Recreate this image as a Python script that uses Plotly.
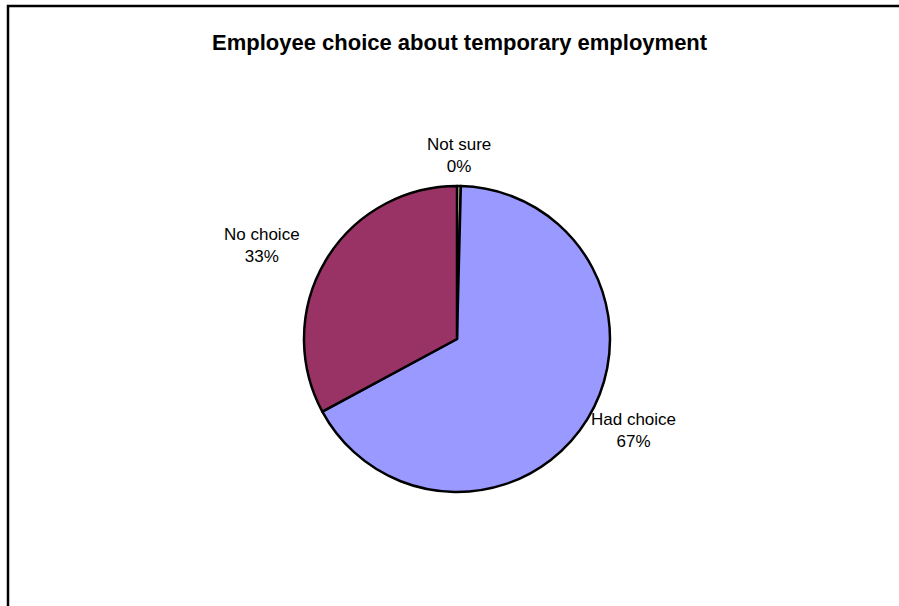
import math
import plotly.graph_objects as go

# Survey responses (share of employees)
labels = ["Not sure", "Had choice", "No choice"]
values = [0.4, 67, 33]
colors = ["#FFFFCC", "#9999FF", "#993366"]

title = "Employee choice about temporary employment"

W, H = 899, 606
CX, CY, R = 457, 339, 153          # pie centre / radius in pixels
LABEL_GAP = 8                      # gap between rim and label box
LABEL_NUDGE = [(0, 0), (3, -4), (-24, 0)]  # fine tuning of label boxes (px)
FONT_SIZE = 17

fig = go.Figure(go.Pie(
    labels=labels,
    values=values,
    marker=dict(colors=colors, line=dict(color="black", width=2.5)),
    sort=False,
    direction="clockwise",
    rotation=0,
    textinfo="none",
    hoverinfo="label+percent",
    showlegend=False,
    domain=dict(x=[(CX - R) / W, (CX + R) / W],
                y=[(H - CY - R) / H, (H - CY + R) / H]),
))

# Outside labels placed at each slice's mid angle
total = sum(values)
annotations = []
start = 0.0
for i, (lab, v) in enumerate(zip(labels, values)):
    frac = v / total
    mid = (start + frac / 2) * 2 * math.pi
    start += frac
    ux, uy = math.sin(mid), -math.cos(mid)          # uy positive = downwards
    text = f"{lab}<br>{round(frac * 100)}%"
    w = len(lab) * 0.5 * FONT_SIZE
    h = 2 * 1.3 * FONT_SIZE
    px = CX + ux * (R + LABEL_GAP) + ux * w / 2 + LABEL_NUDGE[i][0]
    py = CY + uy * (R + LABEL_GAP) + uy * h / 2 + LABEL_NUDGE[i][1]
    annotations.append(dict(
        x=px / W, y=1 - py / H, xref="paper", yref="paper",
        text=text, showarrow=False, xanchor="center", yanchor="middle",
        font=dict(family="Liberation Sans, Arial, sans-serif", size=FONT_SIZE, color="black"),
    ))

annotations.append(dict(
    x=460 / W, y=1 - 42 / H, xref="paper", yref="paper",
    text=f"<b>{title}</b>", showarrow=False, xanchor="center", yanchor="middle",
    font=dict(family="Liberation Sans, Arial, sans-serif", size=22, color="black"),
))

fig.update_layout(
    width=W, height=H,
    margin=dict(l=0, r=0, t=0, b=0),
    paper_bgcolor="white",
    plot_bgcolor="white",
    annotations=annotations,
    shapes=[dict(type="rect", xref="paper", yref="paper",
                 x0=8 / W, y0=-0.1, x1=1.1, y1=1 - 6 / H,
                 line=dict(color="black", width=2.5), fillcolor="rgba(0,0,0,0)")],
)

fig.write_html("out.html")
